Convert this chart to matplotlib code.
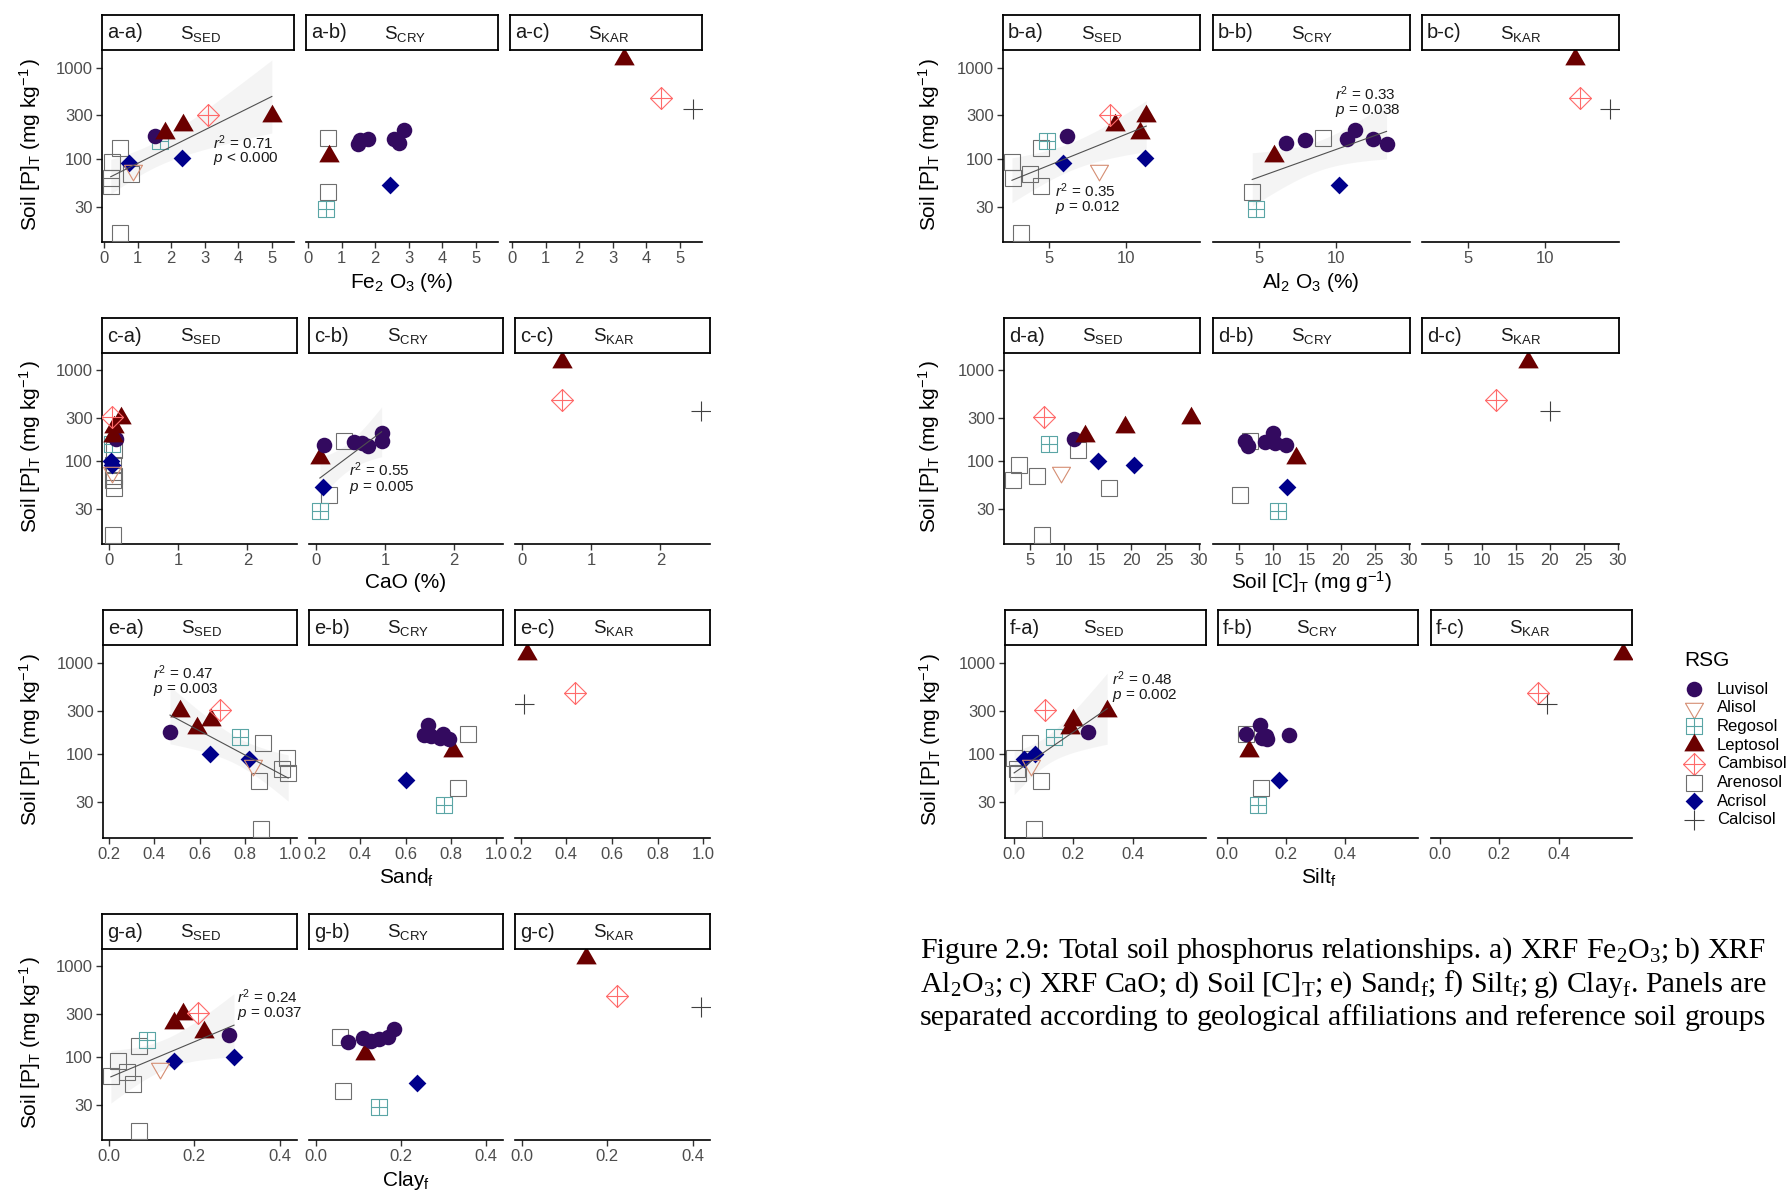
import math
import numpy as np
import matplotlib
matplotlib.use("Agg")
import matplotlib.pyplot as plt
from matplotlib.path import Path
from matplotlib.ticker import NullLocator
from matplotlib.transforms import IdentityTransform

plt.rcParams.update({
    "font.family": ["Liberation Sans", "DejaVu Sans"],
    "mathtext.fontset": "custom",
    "mathtext.rm": "Liberation Serif",
    "mathtext.sf": "Liberation Sans",
    "mathtext.it": "Liberation Sans:italic",
    "mathtext.bf": "Liberation Sans:bold",
})

# ---------------------------------------------------------------- data
# one entry per soil profile: geological group, reference soil group and properties
group = ["SED", "SED", "SED", "SED", "SED", "SED", "SED", "SED", "SED", "SED",
         "SED", "SED", "SED", "SED", "SED",
         "CRY", "CRY", "CRY", "CRY", "CRY", "CRY", "CRY", "CRY", "CRY", "CRY", "CRY",
         "KAR", "KAR", "KAR"]
rsg = ["Arenosol", "Arenosol", "Arenosol", "Arenosol", "Arenosol", "Arenosol",
       "Regosol", "Luvisol", "Leptosol", "Leptosol", "Leptosol", "Cambisol",
       "Acrisol", "Acrisol", "Alisol",
       "Arenosol", "Arenosol", "Regosol", "Leptosol", "Acrisol",
       "Luvisol", "Luvisol", "Luvisol", "Luvisol", "Luvisol", "Luvisol",
       "Leptosol", "Cambisol", "Calcisol"]
soil_p = [132, 92, 62, 51, 69, 15.3, 155, 177, 192, 237, 298, 305, 90, 102, 76,
          168, 43, 28, 108, 52, 207, 146, 150, 163, 166, 160,
          1250, 470, 355]
fe2o3 = [0.48, 0.25, 0.20, 0.20, 0.79, 0.48, 1.68, 1.52, 1.82, 2.36, 5.00, 3.11, 0.75, 2.31, 0.86,
         0.60, 0.60, 0.53, 0.64, 2.44, 2.86, 1.50, 2.70, 1.80, 2.56, 1.55,
         3.35, 4.44, 5.40]
al2o3 = [4.50, 2.60, 2.66, 4.50, 3.77, 3.20, 4.87, 6.17, 10.9, 9.30, 11.3, 8.92, 5.89, 11.2, 8.26,
         9.15, 4.56, 4.78, 5.98, 10.2, 11.2, 13.26, 6.77, 10.73, 12.37, 7.97,
         11.9, 12.25, 14.2]
cao = [0.06, 0.05, 0.05, 0.07, 0.06, 0.05, 0.04, 0.10, 0.05, 0.07, 0.17, 0.04, 0.03, 0.02, 0.03,
       0.40, 0.18, 0.05, 0.05, 0.09, 0.95, 0.75, 0.11, 0.55, 0.95, 0.67,
       0.57, 0.57, 2.59]
soil_c = [12.1, 3.4, 2.5, 16.8, 6.1, 6.8, 7.9, 11.6, 13.2, 19.1, 28.9, 7.1, 20.5, 15.1, 9.6,
          6.6, 5.2, 10.8, 13.4, 12.1, 10.0, 6.4, 11.9, 8.9, 5.93, 10.3,
          16.8, 12.1, 20.1]
sand_f = [0.88, 0.984, 0.99, 0.86, 0.964, 0.87, 0.78, 0.47, 0.59, 0.65, 0.516, 0.69, 0.816, 0.644, 0.836,
          0.876, 0.83, 0.77, 0.81, 0.60, 0.70, 0.79, 0.75, 0.68, 0.766, 0.71,
          0.226, 0.44, 0.214]
silt_f = [0.053, 0.0, 0.014, 0.09, 0.008, 0.067, 0.133, 0.25, 0.19, 0.20, 0.314, 0.104, 0.033, 0.069, 0.057,
          0.065, 0.114, 0.106, 0.075, 0.176, 0.112, 0.137, 0.12, 0.21, 0.063, 0.131,
          0.617, 0.331, 0.36]
clay_f = [0.069, 0.02, 0.004, 0.056, 0.042, 0.071, 0.088, 0.282, 0.223, 0.153, 0.174, 0.209, 0.153, 0.293, 0.119,
          0.056, 0.064, 0.148, 0.116, 0.237, 0.183, 0.075, 0.13, 0.11, 0.17, 0.148,
          0.149, 0.222, 0.42]

geo_groups = ["SED", "CRY", "KAR"]
rsg_order = ["Luvisol", "Alisol", "Regosol", "Leptosol", "Cambisol", "Arenosol", "Acrisol", "Calcisol"]

# fitted relationships and their reported statistics: (row, group, x, y_r2, y_p, r2, p)
fit_labels = [
    ("a", "SED", 3.25, 152, 100, "0.71", "< 0.000"),
    ("b", "SED", 5.41, 45, 29, "0.35", "= 0.012"),
    ("b", "CRY", 9.94, 512, 336, "0.33", "= 0.038"),
    ("c", "CRY", 0.47, 80, 52, "0.55", "= 0.005"),
    ("e", "SED", 0.396, 777, 512, "0.47", "= 0.003"),
    ("f", "SED", 0.331, 671, 437, "0.48", "= 0.002"),
    ("g", "SED", 0.301, 468, 307, "0.24", "= 0.037"),
]

caption_lines = [
    "Figure 2.9: Total soil phosphorus relationships. a) XRF Fe$_\\mathrm{2}$O$_\\mathrm{3}$; b) XRF",
    "Al$_\\mathrm{2}$O$_\\mathrm{3}$; c) XRF CaO; d) Soil [C]$_\\mathrm{T}$; e) Sand$_\\mathrm{f}$; "
    "f) Silt$_\\mathrm{f}$; g) Clay$_\\mathrm{f}$. Panels are",
    "separated according to geological affiliations and reference soil groups",
]

# ---------------------------------------------------------------- marker styles
M, L, C = Path.MOVETO, Path.LINETO, Path.CLOSEPOLY
tri_up = Path([(-1, -0.577), (1, -0.577), (0, 1.155), (-1, -0.577)], [M, L, L, C])
tri_down = Path([(-1, 0.577), (1, 0.577), (0, -1.155), (-1, 0.577)], [M, L, L, C])
diamond = Path([(0, -1), (1, 0), (0, 1), (-1, 0), (0, -1)], [M, L, L, L, C])
sq_plus = Path([(-1, -1), (1, -1), (1, 1), (-1, 1), (-1, -1), (-1, 0), (1, 0), (0, -1), (0, 1)],
               [M, L, L, L, C, M, L, M, L])
dia_plus = Path([(0, -1), (1, 0), (0, 1), (-1, 0), (0, -1), (-1, 0), (1, 0), (0, -1), (0, 1)],
                [M, L, L, L, C, M, L, M, L])

styles = {
    "Luvisol": dict(marker="o", ms=11.2, mfc="#330A5F", mec="#330A5F", mew=0),
    "Alisol": dict(marker=tri_down, ms=15, mfc="none", mec="#D58E73", mew=0.8),
    "Regosol": dict(marker=sq_plus, ms=11.6, mfc="none", mec="#5AA5A5", mew=0.8),
    "Leptosol": dict(marker=tri_up, ms=17, mfc="#6B0000", mec="#6B0000", mew=0),
    "Cambisol": dict(marker=dia_plus, ms=15.8, mfc="none", mec="#FF6B6B", mew=0.8),
    "Arenosol": dict(marker="s", ms=11.6, mfc="none", mec="#6E6E6E", mew=0.8),
    "Acrisol": dict(marker=diamond, ms=12.8, mfc="#00008B", mec="#00008B", mew=0),
    "Calcisol": dict(marker="+", ms=14.4, mec="#404040", mew=0.8),
}

# ---------------------------------------------------------------- layout (pixels)
W, H = 1792, 1192
STRIP_H = 35
rows = [
    dict(key="a", var=fe2o3, ticks=[0, 1, 2, 3, 4, 5], fmt="{:.0f}",
         xlabel="Fe$_{\\mathsf{2}}$ O$_{\\mathsf{3}}$ (%)",
         top=50, bot=242, cols=[(102, 294), (306, 498), (510, 702)], xlab_y=283, ylab_x=30),
    dict(key="b", var=al2o3, ticks=[5, 10], fmt="{:.0f}",
         xlabel="Al$_{\\mathsf{2}}$ O$_{\\mathsf{3}}$ (%)",
         top=50, bot=242, cols=[(1003, 1200), (1213, 1410), (1422, 1619)], xlab_y=283, ylab_x=929),
    dict(key="c", var=cao, ticks=[0, 1, 2], fmt="{:.0f}", xlabel="CaO (%)",
         top=353, bot=544, cols=[(102, 297), (309, 503), (515, 710)], xlab_y=583, ylab_x=30),
    dict(key="d", var=soil_c, ticks=[5, 10, 15, 20, 25, 30], fmt="{:.0f}",
         xlabel="Soil [C]$_{\\mathsf{T}}$ (mg g$^{\\mathsf{-1}}$)",
         top=353, bot=544, cols=[(1004, 1200), (1213, 1410), (1422, 1619)], xlab_y=582, ylab_x=929),
    dict(key="e", var=sand_f, ticks=[0.2, 0.4, 0.6, 0.8, 1.0], fmt="{:.1f}",
         xlabel="Sand$_{\\mathsf{f}}$",
         top=645, bot=838, cols=[(103, 297), (309, 503), (515, 710)], xlab_y=878, ylab_x=30),
    dict(key="f", var=silt_f, ticks=[0.0, 0.2, 0.4], fmt="{:.1f}",
         xlabel="Silt$_{\\mathsf{f}}$",
         top=645, bot=838, cols=[(1005, 1206), (1218, 1418), (1431, 1632)], xlab_y=878, ylab_x=930),
    dict(key="g", var=clay_f, ticks=[0.0, 0.2, 0.4], fmt="{:.1f}",
         xlabel="Clay$_{\\mathsf{f}}$",
         top=949, bot=1140, cols=[(102, 297), (309, 503), (515, 710)], xlab_y=1180, ylab_x=30),
]

TICK_COLOR = "#4D4D4D"
YLABEL = "Soil [P]$_{\\mathsf{T}}$ (mg kg$^{\\mathsf{-1}}$$\\,$)"

fig = plt.figure(figsize=(W / 100, H / 100), dpi=100)
fig.patch.set_facecolor("white")


def px_axes(l, t, r, b, **kw):
    return fig.add_axes([l / W, 1 - b / H, (r - l) / W, (b - t) / H], **kw)


def t_quantile(q, df):
    ts = np.linspace(0, 15, 30001)
    pdf = (math.gamma((df + 1) / 2) / (math.sqrt(df * math.pi) * math.gamma(df / 2))
           * (1 + ts ** 2 / df) ** (-(df + 1) / 2))
    cdf = 0.5 + np.concatenate([[0.0], np.cumsum((pdf[1:] + pdf[:-1]) / 2 * np.diff(ts))])
    return float(np.interp(q, cdf, ts))


def lm_band(x, y):
    """Least-squares line of log10(y) on x with a 95 % confidence band."""
    x = np.asarray(x, float)
    ly = np.log10(np.asarray(y, float))
    n = len(x)
    slope, icpt = np.polyfit(x, ly, 1)
    resid = ly - (icpt + slope * x)
    s = math.sqrt(np.sum(resid ** 2) / (n - 2))
    sxx = np.sum((x - x.mean()) ** 2)
    xs = np.linspace(x.min(), x.max(), 80)
    fit = icpt + slope * xs
    half = t_quantile(0.975, n - 2) * s * np.sqrt(1 / n + (xs - x.mean()) ** 2 / sxx)
    return xs, 10 ** fit, 10 ** (fit - half), 10 ** (fit + half)


p_all = np.log10(np.array(soil_p, float))
ypad = 0.05 * (p_all.max() - p_all.min())
ylim = (10 ** (p_all.min() - ypad), 10 ** (p_all.max() + ypad))

# overlay in pixel units for titles, strip texts and the legend
lax = px_axes(0, 0, W, H)
lax.set_xlim(0, W)
lax.set_ylim(H, 0)
lax.axis("off")
lax.set_zorder(20)
lax.patch.set_alpha(0)

fits = {(f[0], f[1]): f for f in fit_labels}

for row in rows:
    xv = np.asarray(row["var"], float)
    xpad = 0.05 * (xv.max() - xv.min())
    xlim = (xv.min() - xpad, xv.max() + xpad)
    for ci, (l, r) in enumerate(row["cols"]):
        g = geo_groups[ci]
        ax = px_axes(l, row["top"], r, row["bot"])
        ax.set_yscale("log")
        ax.set_xlim(*xlim)
        ax.set_ylim(*ylim)
        for sp in ("top", "right"):
            ax.spines[sp].set_visible(False)
        ax.spines["bottom"].set_linewidth(1.2)
        ax.spines["left"].set_linewidth(1.2)
        ax.set_xticks(row["ticks"])
        ax.set_xticklabels([row["fmt"].format(t) for t in row["ticks"]])
        ax.yaxis.set_minor_locator(NullLocator())
        ax.xaxis.set_minor_locator(NullLocator())
        ax.tick_params(axis="both", direction="out", length=4, width=1.0,
                       labelsize=12, labelcolor=TICK_COLOR, pad=2.5, color="#333333")
        if ci == 0:
            ax.set_yticks([30, 100, 300, 1000])
            ax.set_yticklabels(["30", "100", "300", "1000"])
        else:
            ax.spines["left"].set_visible(False)
            ax.tick_params(axis="y", left=False, labelleft=False)
            ax.set_yticks([])

        idx = [i for i in range(len(soil_p)) if group[i] == g]

        if (row["key"], g) in fits:
            xs, fy, lo, hi = lm_band([xv[i] for i in idx], [soil_p[i] for i in idx])
            ax.fill_between(xs, lo, hi, color="#999999", alpha=0.1, lw=0, zorder=1)
            ax.plot(xs, fy, color="#505050", lw=0.8, zorder=4)
            f = fits[(row["key"], g)]
            ax.text(f[2], f[3], "$\\mathit{r}^{\\mathsf{2}}$ = " + f[5], fontsize=11,
                    ha="left", va="center", color="#1A1A1A", zorder=6)
            ax.text(f[2], f[4], "$\\mathit{p}$ " + f[6], fontsize=11,
                    ha="left", va="center", color="#1A1A1A", zorder=6)

        for i in idx:
            ax.plot([xv[i]], [soil_p[i]], linestyle="none", zorder=3, **styles[rsg[i]])

        # facet strip
        sax = px_axes(l, row["top"] - STRIP_H, r, row["top"])
        sax.set_xticks([])
        sax.set_yticks([])
        for sp in sax.spines.values():
            sp.set_linewidth(1.3)
            sp.set_color("black")
        cy = row["top"] - STRIP_H / 2
        lax.text(l + 5, cy + 6, f"{row['key']}-{'abc'[ci]})", fontsize=14.5,
                 ha="left", va="baseline", color="#1A1A1A")
        lax.text(l + 78, cy + 6, "S$_{\\mathsf{" + g + "}}$", fontsize=13.5,
                 ha="left", va="baseline", color="#1A1A1A")

    x_mid = (row["cols"][0][0] + row["cols"][2][1]) / 2
    lax.text(x_mid, row["xlab_y"], row["xlabel"], fontsize=15, ha="center", va="center")
    lax.text(row["ylab_x"], (row["top"] + row["bot"]) / 2 - 2, YLABEL, fontsize=15,
             rotation=90, ha="center", va="center")

# legend
lax.text(1684, 661, "RSG", fontsize=15, ha="left", va="center")
for k, name in enumerate(rsg_order):
    yk = 689 + k * 18.7
    lax.plot([1694], [yk], linestyle="none", **styles[name])
    lax.text(1717, yk, name, fontsize=12, ha="left", va="center")

# caption, justified between two margins
renderer = fig.canvas.get_renderer()
CAP_X0, CAP_X1 = 920, 1766
cap_base = [958, 992, 1025]
probe = fig.text(0, 0, caption_lines[2], fontsize=20, family="Liberation Serif",
                 transform=IdentityTransform())
cap_fs = 20 * (CAP_X1 - CAP_X0) / probe.get_window_extent(renderer).width
probe.remove()

for line, yb in zip(caption_lines, cap_base):
    words = line.split(" ")
    objs = [fig.text(0, H - yb, w, fontsize=cap_fs, family="Liberation Serif",
                     transform=IdentityTransform(), ha="left", va="baseline") for w in words]
    widths = [o.get_window_extent(renderer).width for o in objs]
    gap = (CAP_X1 - CAP_X0 - sum(widths)) / (len(words) - 1)
    x = CAP_X0
    for o, wd in zip(objs, widths):
        o.set_x(x)
        x += wd + gap

fig.savefig("out.png", dpi=100, facecolor="white")
